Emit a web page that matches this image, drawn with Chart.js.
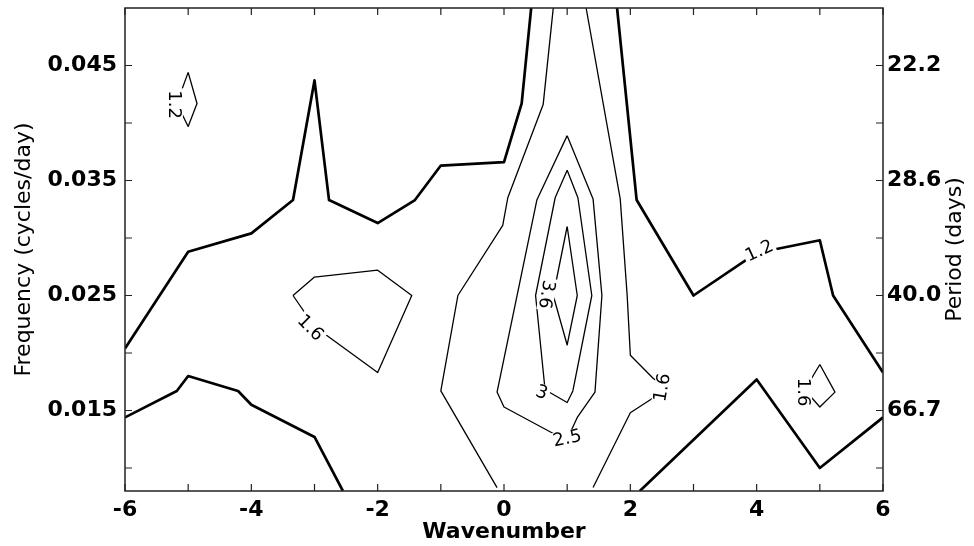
<!DOCTYPE html>
<html>
<head>
<meta charset="utf-8">
<script src="https://cdn.jsdelivr.net/npm/chart.js@4.4.1/dist/chart.umd.min.js"></script>
<style>
  body { margin: 0; background: #fff; }
  #wrap { width: 974px; height: 546px; }
</style>
</head>
<body>
<div id="wrap"><canvas id="contourChart"></canvas></div>
<script>
// Axis ticks
const xTickMarks = [-6, -5, -4, -3, -2, -1, 0, 1, 2, 3, 4, 5, 6];
const xTickLabels = [-6, -4, -2, 0, 2, 4, 6];
const freqTickMarks = [0.010, 0.015, 0.020, 0.025, 0.030, 0.035, 0.040, 0.045];
const freqTickLabels = [0.015, 0.025, 0.035, 0.045];
const periodLabels = ['66.7', '40.0', '28.6', '22.2'];

// Contour lines as [wavenumber, frequency] pairs
const c12Upper = [[-6, 0.0204], [-5, 0.0288], [-4, 0.0304], [-3.34, 0.0333], [-3, 0.0437], [-2.77, 0.0333],
  [-2, 0.0313], [-1.41, 0.0333], [-1, 0.0363], [0, 0.0366], [0.28, 0.0417], [0.43, 0.05]];
const c12Right = [[1.79, 0.05], [2.1, 0.0333], [3, 0.025], [4, 0.0287], [5, 0.0298], [5.21, 0.025], [6, 0.0183]];
const c12LowLeft = [[-6, 0.0144], [-5.18, 0.0167], [-5, 0.018], [-4.21, 0.0167], [-4, 0.0155], [-3, 0.0127], [-2.55, 0.008]];
const c12LowRight = [[2.15, 0.008], [4, 0.0177], [5, 0.0100], [6, 0.0144]];
const c12Small = [[-5, 0.0444], [-4.86, 0.0417], [-5, 0.0397], [-5.18, 0.0417], [-5, 0.0444]];
const c16Left = [[0.78, 0.05], [0.62, 0.0416], [0.06, 0.0335], [-0.02, 0.0311], [-0.73, 0.025], [-1, 0.0167], [-0.11, 0.0083]];
const c16Right = [[1.3, 0.05], [1.84, 0.0334], [1.95, 0.025], [2, 0.0198], [2.36, 0.0178], [2.55, 0.0170],
  [2.39, 0.0162], [2, 0.0148], [1.41, 0.0083]];
const c16Box = [[-3.34, 0.025], [-3, 0.0266], [-2, 0.0272], [-1.46, 0.025], [-2, 0.0183], [-3, 0.0223], [-3.34, 0.025]];
const c16Small = [[5, 0.019], [5.24, 0.0166], [5, 0.0153], [4.76, 0.0168], [5, 0.019]];
const c25 = [[1, 0.0389], [1.41, 0.0334], [1.55, 0.025], [1.44, 0.0166], [1.16, 0.0144], [1, 0.0125],
  [0.78, 0.0130], [0, 0.0153], [-0.11, 0.0166], [0.52, 0.0333], [1, 0.0389]];
const c30 = [[1, 0.0359], [1.17, 0.0335], [1.39, 0.025], [1.09, 0.0167], [1, 0.0157], [0.65, 0.0168],
  [0.5, 0.025], [0.81, 0.0335], [1, 0.0359]];
const c36 = [[1, 0.031], [1.16, 0.025], [1, 0.0207], [0.78, 0.025], [1, 0.031]];

// Contour labels: text, wavenumber, frequency, angle (deg)
const contourLabels = [
  ['1.2', -5.21, 0.0416, 90],
  ['1.6', -3.06, 0.0222, 45],
  ['3.6', 0.68, 0.0251, 100],
  ['3', 0.60, 0.0166, 20],
  ['2.5', 1.0, 0.0126, -12],
  ['1.6', 2.5, 0.0170, -80],
  ['1.6', 4.75, 0.0166, 90],
  ['1.2', 4.04, 0.0289, -25]
];

const thick = [c12Upper, c12Right, c12LowLeft, c12LowRight];
const thin = [c12Small, c16Left, c16Right, c16Box, c16Small, c25, c30, c36];

function toSet(pts, width) {
  return {
    data: pts.map(p => ({ x: p[0], y: p[1] })),
    showLine: true,
    borderColor: '#000',
    borderWidth: width,
    borderJoinStyle: 'round',
    pointRadius: 0,
    tension: 0
  };
}

const datasets = thick.map(c => toSet(c, 2.7)).concat(thin.map(c => toSet(c, 1.3)));

// labels on the contours, with a white gap under them
const labelPlugin = {
  id: 'contourLabels',
  afterDatasetsDraw(chart) {
    const { ctx, scales: { x, y } } = chart;
    ctx.save();
    ctx.font = '18px "DejaVu Sans"';
    ctx.textAlign = 'center';
    ctx.textBaseline = 'middle';
    contourLabels.forEach(([text, wx, fy, rot]) => {
      const px = x.getPixelForValue(wx);
      const py = y.getPixelForValue(fy);
      const w = ctx.measureText(text).width;
      ctx.save();
      ctx.translate(px, py);
      ctx.rotate(rot * Math.PI / 180);
      ctx.fillStyle = '#fff';
      ctx.fillRect(-w / 2 - 2, -8, w + 4, 16);
      ctx.fillStyle = '#000';
      ctx.fillText(text, 0, 1);
      ctx.restore();
    });
    ctx.restore();
  }
};

// frame, inward ticks and the right-hand title
const framePlugin = {
  id: 'frame',
  afterDraw(chart) {
    const { ctx, chartArea: a, scales: { x, y } } = chart;
    ctx.save();
    ctx.strokeStyle = '#222';
    ctx.lineWidth = 1.5;
    ctx.strokeRect(a.left, a.top, a.right - a.left, a.bottom - a.top);
    ctx.lineWidth = 1.2;
    ctx.beginPath();
    xTickMarks.forEach(v => {
      const px = x.getPixelForValue(v);
      ctx.moveTo(px, a.bottom); ctx.lineTo(px, a.bottom - 7);
      ctx.moveTo(px, a.top); ctx.lineTo(px, a.top + 7);
    });
    freqTickMarks.forEach(v => {
      const py = y.getPixelForValue(v);
      ctx.moveTo(a.left, py); ctx.lineTo(a.left + 7, py);
      ctx.moveTo(a.right, py); ctx.lineTo(a.right - 7, py);
    });
    ctx.stroke();

    ctx.translate(955, (a.top + a.bottom) / 2);
    ctx.rotate(-Math.PI / 2);
    ctx.font = '22px "DejaVu Sans"';
    ctx.fillStyle = '#000';
    ctx.textAlign = 'center';
    ctx.textBaseline = 'middle';
    ctx.fillText('Period (days)', 0, 0);
    ctx.restore();
  }
};

function fixSize(prop, size) {
  return function (scale) {
    scale[prop] = size;
    scale.paddingTop = 0;
    scale.paddingBottom = 0;
    scale.paddingLeft = 0;
    scale.paddingRight = 0;
  };
}

const tickFont = { family: 'DejaVu Sans', weight: 'bold', size: 22 };

new Chart(document.getElementById('contourChart'), {
  type: 'scatter',
  data: { datasets: datasets },
  options: {
    responsive: true,
    maintainAspectRatio: false,
    animation: false,
    layout: { padding: { top: 8, left: 0, right: 0, bottom: 0 } },
    plugins: { legend: { display: false }, tooltip: { enabled: false } },
    scales: {
      x: {
        type: 'linear',
        min: -6,
        max: 6,
        grid: { display: false, drawTicks: false },
        border: { display: false },
        afterBuildTicks: s => { s.ticks = xTickLabels.map(v => ({ value: v })); },
        ticks: { font: tickFont, color: '#000', padding: 6, maxRotation: 0, autoSkip: false },
        title: { display: true, text: 'Wavenumber', color: '#000', font: tickFont, padding: { top: 0, bottom: 1 } },
        afterFit: fixSize('height', 55)
      },
      y: {
        type: 'linear',
        min: 0.008,
        max: 0.05,
        grid: { display: false, drawTicks: false },
        border: { display: false },
        afterBuildTicks: s => { s.ticks = freqTickLabels.map(v => ({ value: v })); },
        ticks: { font: tickFont, color: '#000', padding: 8, autoSkip: false, callback: v => v.toFixed(3) },
        title: {
          display: true, text: 'Frequency (cycles/day)', color: '#000',
          font: { family: 'DejaVu Sans', size: 22 }, padding: { top: 11, bottom: 0 }
        },
        afterFit: fixSize('width', 125)
      },
      y2: {
        type: 'linear',
        position: 'right',
        min: 0.008,
        max: 0.05,
        grid: { display: false, drawTicks: false },
        border: { display: false },
        afterBuildTicks: s => { s.ticks = freqTickLabels.map(v => ({ value: v })); },
        ticks: { font: tickFont, color: '#000', padding: 4, autoSkip: false, callback: (v, i) => periodLabels[i] },
        afterFit: fixSize('width', 91)
      }
    }
  },
  plugins: [labelPlugin, framePlugin]
});
</script>
</body>
</html>
